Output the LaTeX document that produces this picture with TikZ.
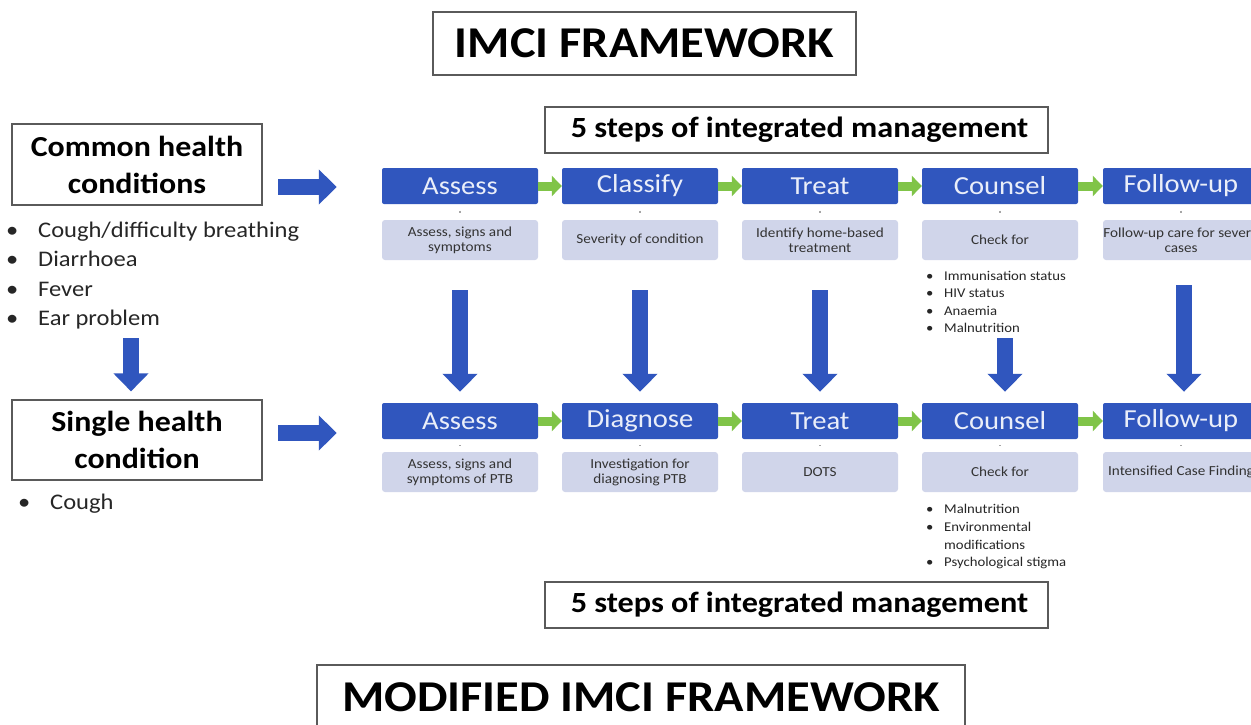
\documentclass[tikz,border=0pt]{standalone}
\usepackage{fontspec}
\setmainfont{Carlito}[FakeStretch=1.1]
\usetikzlibrary{arrows.meta}
\definecolor{stepblue}{RGB}{48,86,190}
\definecolor{steplav}{RGB}{208,213,234}
\definecolor{stepgreen}{RGB}{128,196,72}
\definecolor{frameline}{RGB}{90,90,90}
\begin{document}
\begin{tikzpicture}[x=1pt,y=-1pt,
  stepbox/.style={fill=stepblue, rounded corners=2pt, minimum width=156pt, minimum height=36pt, inner sep=0pt, text=white!90!stepblue, font=\fontsize{26}{28}\selectfont},
  detailbox/.style={fill=steplav, rounded corners=3pt, minimum width=156pt, minimum height=40pt, inner sep=0pt, align=center, text=black!80, font=\fontsize{13.8}{15}\selectfont},
  framebox/.style={draw=frameline, line width=1.2pt, fill=white, inner sep=0pt, align=center},
  bluearrow/.style={draw=stepblue, line width=16pt, -{Triangle[width=34pt,length=18pt]}},
  greenarrow/.style={draw=stepgreen, line width=9pt, -{Triangle[width=20pt,length=10pt]}},
  tick/.style={draw=black!35, line width=2.5pt, shorten <=6.5pt, shorten >=6.5pt},
  bulletlist/.style={anchor=north west, align=left, inner sep=0pt, text=black!85}
]
\useasboundingbox (0,0) rectangle (1251,724);
\clip (0,0) rectangle (1251,724);
\fill[white] (0,0) rectangle (1251,724);

% titles
\node[framebox, font=\bfseries\fontsize{44}{48}\selectfont, minimum width=423pt, minimum height=63pt] (title1) at (644.5,43.5) {IMCI FRAMEWORK};
\node[framebox, font=\bfseries\fontsize{29.3}{32}\selectfont, minimum width=503pt, minimum height=46pt] (steps1) at (796.5,130) {\hspace*{6pt}5 steps of integrated management};
\node[framebox, font=\bfseries\fontsize{29.3}{32}\selectfont, minimum width=503pt, minimum height=46pt] (steps2) at (796.5,605) {\hspace*{6pt}5 steps of integrated management};
\node[framebox, font=\bfseries\fontsize{44}{48}\selectfont, minimum width=648pt, minimum height=64pt] (title2) at (641,697) {MODIFIED IMCI FRAMEWORK};

% left side
\node[framebox, font=\bfseries\fontsize{29}{37}\selectfont, minimum width=250pt, minimum height=81pt] (common) at (137,164.5) {Common health\\conditions};
\node[bulletlist, font=\fontsize{22.3}{29.3}\selectfont] (list1) at (6,222) {\makebox[32pt][l]{•}Cough/difficulty breathing\\\makebox[32pt][l]{•}Diarrhoea\\\makebox[32pt][l]{•}Fever\\\makebox[32pt][l]{•}Ear problem};
\node[framebox, font=\bfseries\fontsize{29}{37}\selectfont, minimum width=250pt, minimum height=80pt] (single) at (137,440) {Single health\\condition};
\node[bulletlist, font=\fontsize{22.3}{24}\selectfont] (list2) at (18,494) {\makebox[32pt][l]{•}Cough};

% row 1
\node[stepbox] (s1a) at (460,186) {Assess};
\node[stepbox] (s1b) at (640,186) {Classify};
\node[stepbox] (s1c) at (820,186) {Treat};
\node[stepbox] (s1d) at (1000,186) {Counsel};
\node[stepbox] (s1e) at (1181,186) {Follow-up};
\node[detailbox] (d1a) at (460,240) {Assess, signs and\\symptoms};
\node[detailbox] (d1b) at (640,240) {Severity of condition};
\node[detailbox] (d1c) at (820,240) {Identify home-based\\treatment};
\node[detailbox] (d1d) at (1000,240) {Check for};
\node[detailbox] (d1e) at (1181,240) {Follow-up care for severe\\cases};
\node[bulletlist, font=\fontsize{13.4}{17.3}\selectfont] (l1) at (926,271) {\makebox[18pt][l]{•}Immunisation status\\\makebox[18pt][l]{•}HIV status\\\makebox[18pt][l]{•}Anaemia\\\makebox[18pt][l]{•}Malnutrition};

% row 2
\node[stepbox] (s2a) at (460,421) {Assess};
\node[stepbox] (s2b) at (640,421) {Diagnose};
\node[stepbox] (s2c) at (820,421) {Treat};
\node[stepbox] (s2d) at (1000,421) {Counsel};
\node[stepbox] (s2e) at (1181,421) {Follow-up};
\node[detailbox] (d2a) at (460,472) {Assess, signs and\\symptoms of PTB};
\node[detailbox] (d2b) at (640,472) {Investigation for\\diagnosing PTB};
\node[detailbox] (d2c) at (820,472) {DOTS};
\node[detailbox] (d2d) at (1000,472) {Check for};
\node[detailbox] (d2e) at (1181,472) {Intensified Case Finding};
\node[bulletlist, font=\fontsize{13.4}{17.8}\selectfont] (l2) at (926,504) {\makebox[18pt][l]{•}Malnutrition\\\makebox[18pt][l]{•}Environmental\\\hspace*{18pt}modifications\\\makebox[18pt][l]{•}Psychological stigma};

% ticks
\foreach \r in {1,2}{
  \foreach \c in {a,b,c,d,e}{
    \draw[tick] (s\r\c.south) -- (d\r\c.north);
  }
}

% green arrows
\draw[greenarrow] (s1a) -- (s1b);
\draw[greenarrow] (s1b) -- (s1c);
\draw[greenarrow] (s1c) -- (s1d);
\draw[greenarrow] (s1d) -- (s1e);
\draw[greenarrow] (s2a) -- (s2b);
\draw[greenarrow] (s2b) -- (s2c);
\draw[greenarrow] (s2c) -- (s2d);
\draw[greenarrow] (s2d) -- (s2e);

% blue arrows
\coordinate (ra1) at (262,187);
\coordinate (ra2) at (262,433);
\coordinate (dl) at (131,338);
\coordinate (dc) at (1005,338);
\draw[bluearrow, shorten <=16pt, shorten >=45pt] (ra1) -- (ra1 -| s1a.west);
\draw[bluearrow, shorten <=16pt, shorten >=45pt] (ra2) -- (ra2 -| s2a.west);
\draw[bluearrow, shorten >=8pt] (dl) -- (dl |- single.north);
\draw[bluearrow, shorten <=30pt, shorten >=11pt] (d1a.south) -- (s2a.north);
\draw[bluearrow, shorten <=30pt, shorten >=11pt] (d1b.south) -- (s2b.north);
\draw[bluearrow, shorten <=30pt, shorten >=11pt] (d1c.south) -- (s2c.north);
\draw[bluearrow, shorten <=25pt, shorten >=11pt] ([xshift=3pt]d1e.south) -- ([xshift=3pt]s2e.north);
\draw[bluearrow, shorten >=11pt] (dc) -- (dc |- s2d.north);
\end{tikzpicture}
\end{document}
